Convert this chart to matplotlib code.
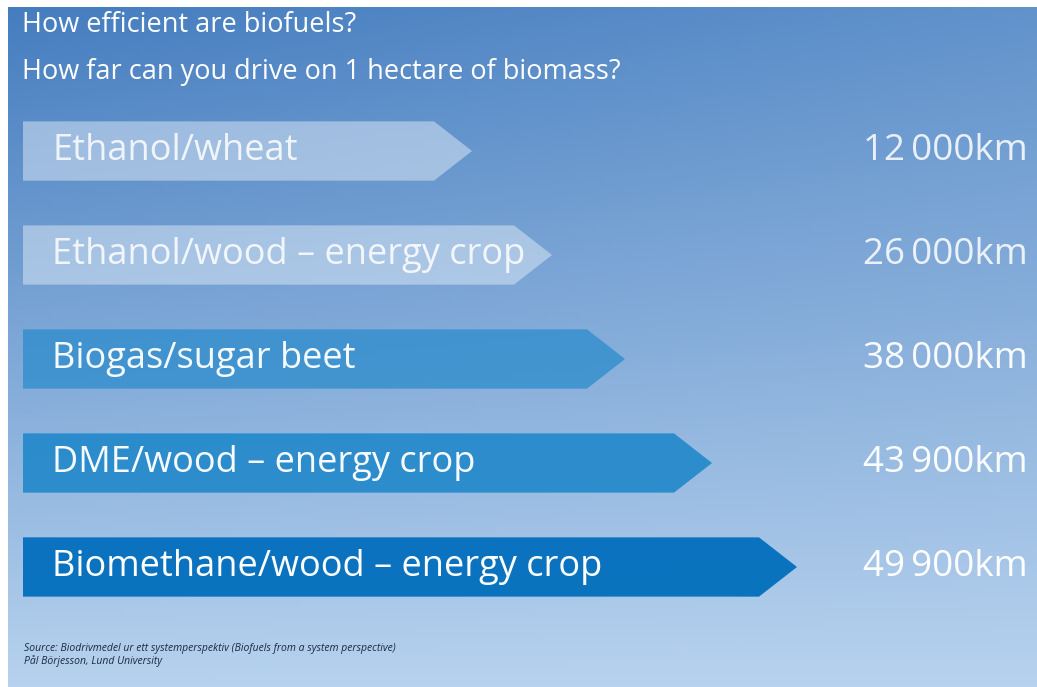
import numpy as np
import matplotlib
matplotlib.use("Agg")
import matplotlib.pyplot as plt
from matplotlib.patches import Polygon

# data
fuels = ["Ethanol/wheat", "Ethanol/wood \u2013 energy crop", "Biogas/sugar beet",
         "DME/wood \u2013 energy crop", "Biomethane/wood \u2013 energy crop"]
km = [12000, 26000, 38000, 43900, 49900]
# drawn arrow lengths (the arrows in the original are not to scale)
arrow_len = [449, 529, 602, 689, 774]
title_lines = ["How efficient are biofuels?", "How far can you drive on 1 hectare of biomass?"]
source = ["Source: Biodrivmedel ur ett systemperspektiv (Biofuels from a system perspective)",
          "P\u00e5l B\u00f6rjesson, Lund University"]

bar_cols = [(0.88, 0.92, 0.97, 0.50), (0.88, 0.92, 0.97, 0.50), (0.17, 0.55, 0.80, 0.75),
            (0.10, 0.52, 0.79, 0.85), (0.02, 0.44, 0.74, 0.97)]
txt_alpha = [0.85, 0.85, 0.95, 0.97, 1.0]

W, H = 1037, 687
fig = plt.figure(figsize=(W / 100, H / 100), dpi=100)
fig.patch.set_facecolor("white")

# background panel with gradient
bg = fig.add_axes([8 / W, 0, 1 - 8 / W, 1 - 7 / H])
yy, xx = np.mgrid[0:1:200j, 0:1:300j]
t = np.clip(0.88 * yy + 0.22 * xx * (1 - yy), 0, 1)
c0 = np.array([0.27, 0.49, 0.75])
c1 = np.array([0.78, 0.87, 0.96])
img = c0[None, None, :] * (1 - t[..., None]) + c1[None, None, :] * t[..., None]
bg.imshow(img, aspect="auto", extent=[0, 1, 0, 1], origin="upper")
bg.set_axis_off()

fam = ["Liberation Sans Narrow", "Open Sans", "DejaVu Sans"]

for i, line in enumerate(title_lines):
    fig.text(22 / W, 1 - (25 + i * 47) / H, line, color="white", fontsize=19.5,
             family=fam, va="center", ha="left")

# bars
ax = fig.add_axes([23 / W, (H - 619) / H, (W - 23) / W, 520 / H])
ax.set_xlim(0, W - 23)
ax.set_ylim(len(fuels) - 0.5, -0.5)
ax.set_axis_off()
bh = 0.57
head = 38
for i, (name, v, L) in enumerate(zip(fuels, km, arrow_len)):
    pts = [(0, i - bh / 2), (L - head, i - bh / 2), (L, i), (L - head, i + bh / 2), (0, i + bh / 2)]
    ax.add_patch(Polygon(pts, closed=True, facecolor=bar_cols[i], edgecolor="none"))
    ax.text(29, i, name, color="white", alpha=txt_alpha[i], fontsize=26, family=fam,
            va="center", ha="left")
    ax.text(W - 23 - 9, i, f"{v:,}".replace(",", "\u2009") + "km", color="white",
            alpha=txt_alpha[i], fontsize=26.5, family=fam, va="center", ha="right")

for i, line in enumerate(source):
    fig.text(24 / W, 1 - (649 + i * 12) / H, line, color="#1a2a40", fontsize=7.5,
             style="italic", family=fam, va="center", ha="left")

fig.savefig("out.png", dpi=100)
